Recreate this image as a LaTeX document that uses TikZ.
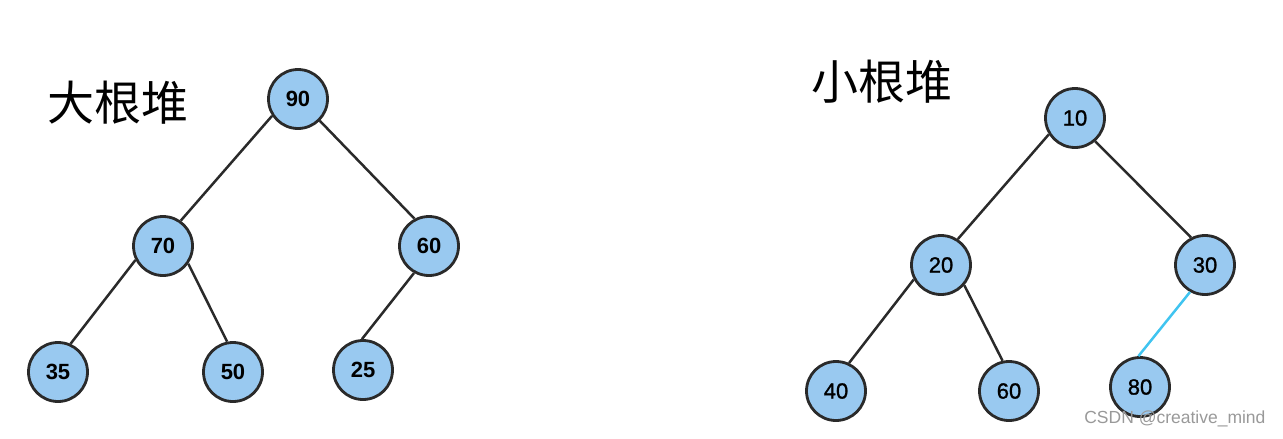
\documentclass[tikz,border=0pt]{standalone}
\usepackage{fontspec}
\setmainfont{Liberation Sans}
\newfontfamily\cjk{Noto Sans CJK SC}
\newfontfamily\medfont[FakeBold=1.2]{Liberation Sans}
\definecolor{nodefill}{HTML}{99C9F0}
\definecolor{edgecol}{HTML}{2A2A2A}
\definecolor{cyanedge}{HTML}{40C4F0}
\begin{document}
\begin{tikzpicture}[x=1pt,y=-1pt,
  hnode/.style={circle,draw=edgecol,fill=nodefill,line width=2.8pt,minimum size=59pt,inner sep=0pt,font=\fontsize{22}{22}\selectfont\bfseries},
  lnode/.style={hnode,font=\medfont\fontsize{22}{22}\selectfont},
  hedge/.style={draw=edgecol,line width=2.5pt},
  title/.style={font=\cjk\fontsize{47}{47}\selectfont,anchor=center}]
\useasboundingbox (0,0) rectangle (1283,439);
% left tree
\node[hnode] (a90) at (298,99) {90};
\node[hnode] (a70) at (163,246) {70};
\node[hnode] (a60) at (429,246) {60};
\node[hnode] (a35) at (58,372) {35};
\node[hnode] (a50) at (233,372) {50};
\node[hnode] (a25) at (363,370) {25};
\draw[hedge] (a90.213) -- (a70.55);
\draw[hedge] (a90.315) -- (a60.118);
\draw[hedge] (a70.207) -- (a35.66);
\draw[hedge] (a70.325) -- (a50.101);
\draw[hedge] (a60.241) -- (a25.92);
\node[title] (t1) at (118,103) {大根堆};
% right tree
\node[lnode] (b10) at (1075,118) {10};
\node[lnode] (b20) at (941,265) {20};
\node[lnode] (b30) at (1205,265) {30};
\node[lnode] (b40) at (836,391) {40};
\node[lnode] (b60) at (1009,391) {60};
\node[lnode] (b80) at (1140,387) {80};
\draw[hedge] (b10.212) -- (b20.57);
\draw[hedge] (b10.311) -- (b30.117);
\draw[hedge] (b20.208) -- (b40.65);
\draw[hedge] (b20.319) -- (b60.102);
\draw[draw=cyanedge,line width=2.5pt] (b30.241) -- (b80.93);
\node[title] (t2) at (882,82) {小根堆};
\node[font=\fontsize{17.5}{17.5}\selectfont,text=gray!80,anchor=east] (wm) at (1269,419) {CSDN @creative\_mind};
\end{tikzpicture}
\end{document}
